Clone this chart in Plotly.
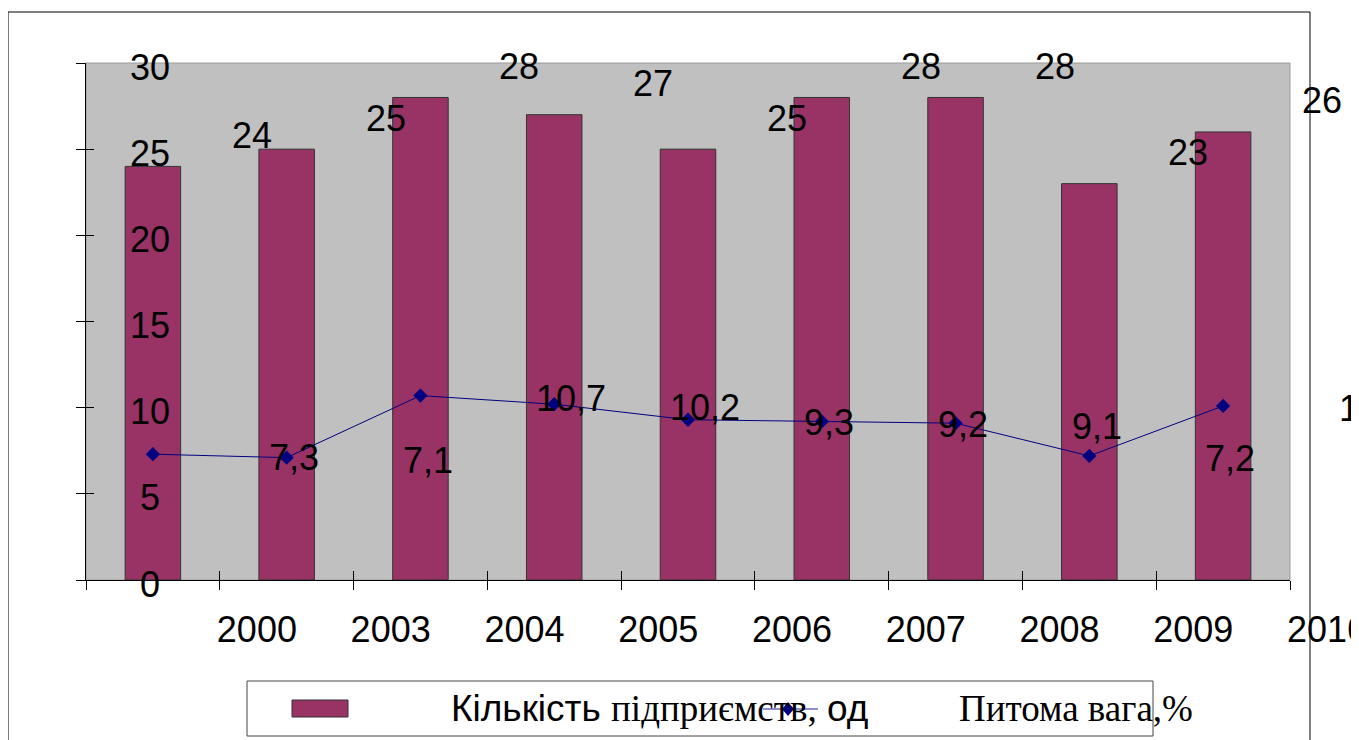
import plotly.graph_objects as go

# ---- data ----
categories = ["2000", "2003", "2004", "2005", "2006", "2007", "2008", "2009", "2010"]
enterprises = [24, 25, 28, 27, 25, 28, 28, 23, 26]          # Кількість підприємств, од
share_pct = [7.3, 7.1, 10.7, 10.2, 9.3, 9.2, 9.1, 7.2, 10.1]  # Питома вага, %
y_ticks = [0, 5, 10, 15, 20, 25, 30]

# ---- layout geometry (pixels); the page body adds an 8px offset ----
OFF = 8
W, H = 1351, 732
L, R, T, B = 78, 69, 55, 160
PW, PH = W - L - R, H - T - B

def px(x):  # screenshot x -> paper fraction
    return (x - OFF - L) / PW

def py(y):  # screenshot y -> paper fraction
    return (H - B - (y - OFF)) / PH

SANS = "Arial, 'Liberation Sans', sans-serif"
SERIF = "'Times New Roman', 'Liberation Serif', serif"
BAR_COLOR = "#993366"
LINE_COLOR = "#000080"

fig = go.Figure()
fig.add_trace(go.Bar(
    x=categories, y=enterprises, name="Кількість підприємств, од",
    marker=dict(color=BAR_COLOR, line=dict(color="#333333", width=1)),
    showlegend=False,
))
fig.add_trace(go.Scatter(
    x=categories, y=share_pct, name="Питома вага,%",
    mode="lines+markers",
    line=dict(color=LINE_COLOR, width=1),
    marker=dict(symbol="diamond", size=11, color=LINE_COLOR),
    showlegend=False,
))
# empty helper trace so the overlay axes (inner half of the crossing ticks) are drawn
fig.add_trace(go.Scatter(x=[], y=[], xaxis="x2", yaxis="y2",
                         showlegend=False, hoverinfo="skip"))

annotations = []
# y tick labels (shifted into the plot as in the original)
for t in y_ticks:
    annotations.append(dict(
        xref="paper", yref="y", x=px(150), y=t, text=str(t),
        showarrow=False, xanchor="center", yanchor="middle", yshift=-4,
        font=dict(family=SANS, size=36, color="black")))
# bar value labels
for i, v in enumerate(enterprises):
    annotations.append(dict(
        xref="x", yref="y", x=i, y=v, text=str(v),
        showarrow=False, xanchor="center", yanchor="middle",
        xshift=99, yshift=31,
        font=dict(family=SANS, size=36, color="black")))
# line value labels
for i, v in enumerate(share_pct):
    annotations.append(dict(
        xref="x", yref="y", x=i, y=v, text=f"{v:.1f}".replace(".", ","),
        showarrow=False, xanchor="left", yanchor="middle",
        xshift=114, yshift=-3,
        font=dict(family=SANS, size=36, color="black")))
# legend texts
annotations.append(dict(
    xref="paper", yref="paper", x=px(449), y=py(708),
    text=("Кількість <span style='font-family:Times New Roman, Liberation Serif, serif'>"
          "підприємств,</span> од"),
    showarrow=False, xanchor="left", yanchor="middle",
    font=dict(family=SANS, size=37, color="black")))
annotations.append(dict(
    xref="paper", yref="paper", x=px(957), y=py(708),
    text="Питома вага,%",
    showarrow=False, xanchor="left", yanchor="middle",
    font=dict(family=SERIF, size=37, color="black")))

shapes = [
    # plot area border (gray, top/right visible)
    dict(type="rect", xref="paper", yref="paper", x0=0, x1=1, y0=0, y1=1,
         line=dict(color="#9a9a9a", width=1), layer="below"),
    # outer chart frame
    dict(type="rect", xref="paper", yref="paper", x0=px(8), x1=px(1310),
         y0=py(12), y1=py(790), line=dict(color="black", width=1)),
    # legend box
    dict(type="rect", xref="paper", yref="paper", x0=px(247), x1=px(1153),
         y0=py(681), y1=py(736), line=dict(color="#444444", width=1),
         fillcolor="white"),
    # legend bar swatch
    dict(type="rect", xref="paper", yref="paper", x0=px(292), x1=px(348),
         y0=py(700), y1=py(717), line=dict(color="#333333", width=1),
         fillcolor=BAR_COLOR),
    # legend line swatch
    dict(type="line", xref="paper", yref="paper", x0=px(763), x1=px(818),
         y0=py(709), y1=py(709), line=dict(color="#6a6ac0", width=1.5)),
    dict(type="path", xref="paper", yref="paper", xsizemode="pixel",
         ysizemode="pixel", xanchor=px(788), yanchor=py(709),
         path="M0,7 L6,0 L0,-7 L-6,0 Z", fillcolor=LINE_COLOR,
         line=dict(color=LINE_COLOR, width=0)),
]

fig.update_layout(
    width=W, height=H,
    margin=dict(l=L, r=R, t=T, b=B, autoexpand=False),
    paper_bgcolor="white", plot_bgcolor="#C0C0C0",
    bargap=0.585,
    font=dict(family=SANS, size=36, color="black"),
    xaxis=dict(
        type="category", categoryarray=categories, range=[-0.5, 8.5],
        showline=True, linecolor="black", linewidth=1,
        ticks="outside", ticklen=9, tickcolor="black", tickson="boundaries",
        showgrid=False, zeroline=False, automargin=False,
        tickangle=0, ticklabelshift=104, ticklabelstandoff=18,
        tickfont=dict(family=SANS, size=36, color="black"),
    ),
    xaxis2=dict(
        overlaying="x", anchor="y", range=[-0.5, 8.5],
        tickvals=[i - 0.5 for i in range(len(categories) + 1)],
        ticks="inside", ticklen=9, tickcolor="black",
        showticklabels=False, showgrid=False, zeroline=False, showline=False,
    ),
    yaxis=dict(
        range=[0, 30], tickvals=y_ticks, showticklabels=False,
        showline=True, linecolor="black", linewidth=1,
        ticks="outside", ticklen=9, tickcolor="black",
        showgrid=False, zeroline=False, automargin=False,
    ),
    yaxis2=dict(
        overlaying="y", anchor="x", range=[0, 30], tickvals=y_ticks,
        ticks="inside", ticklen=8, tickcolor="black",
        showticklabels=False, showgrid=False, zeroline=False, showline=False,
    ),
    annotations=annotations,
    shapes=shapes,
)

fig.write_html("out.html")
